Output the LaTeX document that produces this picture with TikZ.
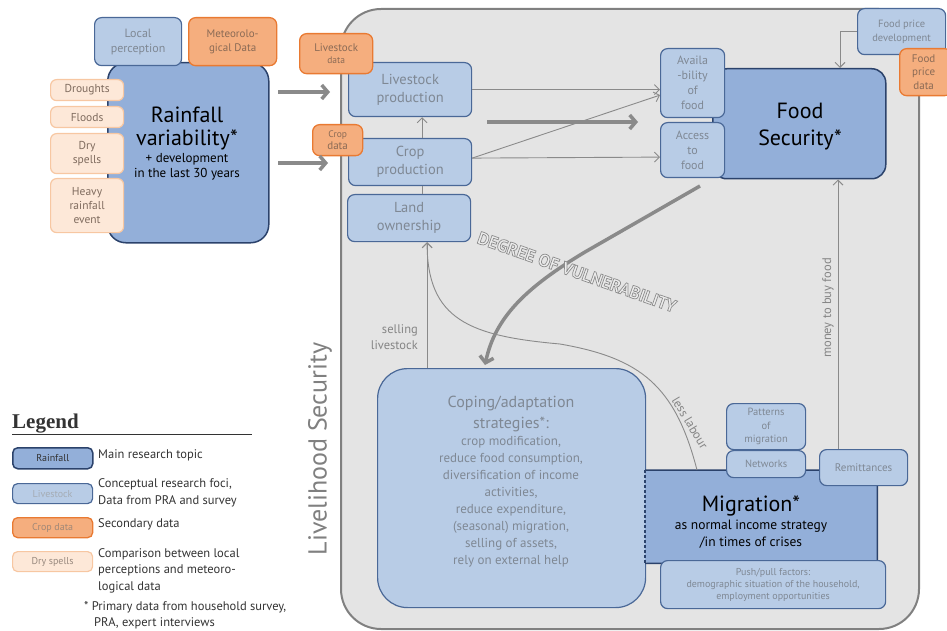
\documentclass[tikz,border=0pt]{standalone}
\usepackage{fontspec}
\setmainfont{PT Sans}
\newfontfamily\serifb{Liberation Serif}
\usetikzlibrary{arrows.meta,calc}
\definecolor{mainblue}{HTML}{93AFD9}
\definecolor{navy}{HTML}{2B426B}
\definecolor{lightblue}{HTML}{B8CCE6}
\definecolor{midnavy}{HTML}{4A6897}
\definecolor{orfill}{HTML}{F5AE7E}
\definecolor{ordraw}{HTML}{E97A32}
\definecolor{peach}{HTML}{FDE8D8}
\definecolor{peachdraw}{HTML}{F7C7A2}
\definecolor{bggray}{HTML}{E4E4E4}
\definecolor{bgdraw}{HTML}{808080}
\definecolor{boxtext}{HTML}{7F8894}
\definecolor{ortext}{HTML}{8A6A55}
\definecolor{peachtext}{HTML}{7F6B5E}
\definecolor{arrowgray}{HTML}{8A8A8A}
\definecolor{labelgray}{HTML}{858585}
\definecolor{legtext}{HTML}{333333}
\newcommand\fsz[2]{\fontsize{#1pt}{#2pt}\selectfont}
\tikzset{
  basebox/.style={anchor=north west, inner sep=0pt, align=center},
  mainbox/.style={basebox, fill=mainblue, draw=navy, line width=1.5pt, rounded corners=14pt, text=black},
  lightbox/.style={basebox, fill=lightblue, draw=midnavy, line width=1.2pt, rounded corners=7pt, text=boxtext},
  orbox/.style={basebox, fill=orfill, draw=ordraw, line width=1.3pt, rounded corners=7pt, text=ortext},
  peachbox/.style={basebox, fill=peach, draw=peachdraw, line width=1.2pt, rounded corners=6pt, text=peachtext},
  thinarrow/.style={draw=arrowgray, line width=0.9pt, -{Straight Barb[length=5pt,width=10pt]}},
  thickarrow/.style={draw=arrowgray, line width=3.5pt, -{Straight Barb[length=6pt,width=14pt]}},
  lbl/.style={text=labelgray, inner sep=0pt, align=center},
  legdesc/.style={text=legtext, inner sep=0pt, align=left, font=\fsz{12.5}{16.5}}
}
\begin{document}
\begin{tikzpicture}[x=1pt,y=-1pt]
\useasboundingbox (0,0) rectangle (947,631);
% big livelihood box
\node[basebox, fill=bggray, draw=bgdraw, line width=2pt, rounded corners=40pt,
  minimum width=578pt, minimum height=620pt] (livebox) at (340,8) {};
\node[lbl, rotate=90, font=\fsz{26}{30}, text=bgdraw] (livetitle) at (320,449) {Livelihood Security};

% rainfall
\node[mainbox, rounded corners=18pt, minimum width=161pt, minimum height=180pt] (rain) at (107,62) {};
\node[inner sep=0pt, align=center, font=\fsz{13}{15.5}, anchor=north] (raintext) at (187,107)
  {{\fsz{22}{27}Rainfall}\\[6pt] {\fsz{22}{27}variability*}\\[1pt] + development\\ in the last 30 years};
\node[lightbox, minimum width=87pt, minimum height=48pt, font=\fsz{12}{15}] (localp) at (94,17) {Local\\perception};
\node[orbox, minimum width=88pt, minimum height=48pt, font=\fsz{11}{14}] (meteo) at (188,17) {Meteorolo-\\gical Data};
\node[peachbox, minimum width=73pt, minimum height=21pt, font=\fsz{11.5}{14}] (drought) at (50,79) {Droughts};
\node[peachbox, minimum width=73pt, minimum height=21pt, font=\fsz{11.5}{14}] (floods) at (50,106) {Floods};
\node[peachbox, minimum width=73pt, minimum height=40pt, font=\fsz{11.5}{14}] (dry) at (50,133) {Dry\\spells};
\node[peachbox, minimum width=73pt, minimum height=54pt, font=\fsz{11.5}{14}] (heavy) at (50,178) {Heavy\\rainfall\\event};

% production boxes
\node[lightbox, minimum width=123pt, minimum height=54pt, font=\fsz{14.5}{18}] (livprod) at (348,62) {Livestock\\production};
\node[lightbox, minimum width=123pt, minimum height=47pt, font=\fsz{14.5}{18}] (cropprod) at (348,138) {Crop\\production};
\node[lightbox, minimum width=123pt, minimum height=47pt, font=\fsz{14.5}{18}] (landown) at (347,194) {Land\\ownership};
\node[orbox, minimum width=73pt, minimum height=40pt, font=\fsz{9.5}{12}] (livdata) at (299,33) {{\fsz{11}{13}Livestock}\\ data};
\node[orbox, minimum width=50pt, minimum height=31pt, font=\fsz{11}{12}] (cropdata) at (312,124) {{\fsz{9.5}{11}Crop}\\ data};

% food security
\node[mainbox, minimum width=173pt, minimum height=110pt] (foodsec) at (712,68) {};
\node[inner sep=0pt, align=center, font=\fsz{22}{27}] (foodtext) at (800,127) {Food\\Security*};
\node[lightbox, minimum width=64pt, minimum height=69pt, font=\fsz{12}{15}] (avail) at (660,48) {Availa\\-bility\\of\\food};
\node[lightbox, minimum width=64pt, minimum height=55pt, font=\fsz{12}{15}] (access) at (660,122) {Access\\to\\food};
\node[lightbox, minimum width=88pt, minimum height=46pt, font=\fsz{10.5}{13.5}] (fpdev) at (857,8) {Food price\\development};
\node[orbox, minimum width=52pt, minimum height=47pt, font=\fsz{11}{13.5}] (fpdata) at (899,48) {\hspace*{-4pt}Food\\\hspace*{-4pt}price\\\hspace*{-4pt}data};

% coping
\node[lightbox, rounded corners=30pt, minimum width=268pt, minimum height=239pt] (coping) at (377,368) {};
\node[lbl, text=boxtext, font=\fsz{13}{17}, anchor=north] (copingtext) at (511,396)
  {{\fsz{16}{20}Coping/adaptation}\\[4pt] {\fsz{16}{20}strategies*:}\\ crop modification,\\ reduce food consumption,\\ diversification of income\\ activities,\\ reduce expenditure,\\ (seasonal) migration,\\ selling of assets,\\ rely on external help};

% migration
\node[basebox, fill=mainblue, rounded corners=3pt, minimum width=232pt, minimum height=93pt] (mig) at (645,470) {};
\draw[navy, line width=1.5pt, rounded corners=3pt] (mig.north west) -- (mig.north east) -- (mig.south east) -- (mig.south west);
\draw[navy, line width=2pt, dash pattern=on 3pt off 2pt] (mig.north west) -- (mig.south west);
\node[inner sep=0pt, align=center, font=\fsz{13.5}{17}, anchor=north] (migtext) at (751,496)
  {{\fsz{22}{22}Migration*}\\[1pt] as normal income strategy\\ /in times of crises};
\node[lightbox, minimum width=79pt, minimum height=46pt, font=\fsz{10.5}{13.5}] (patterns) at (726,403) {Patterns\\of\\migration};
\node[lightbox, minimum width=79pt, minimum height=27pt, font=\fsz{10.5}{13}] (networks) at (726,450) {Networks};
\node[lightbox, minimum width=88pt, minimum height=36pt, font=\fsz{11}{13}] (remit) at (819,449) {Remittances};
\node[lightbox, minimum width=225pt, minimum height=48pt, font=\fsz{10}{12}] (pushpull) at (660,560)
  {Push/pull factors:\\ demographic situation of the household,\\ employment opportunities};

% arrows from rainfall
\coordinate (r1s) at (278,92); \coordinate (r1e) at (330,92);
\coordinate (r2s) at (278,163); \coordinate (r2e) at (328,163);
\draw[thickarrow] (r1s) -- (r1e);
\draw[thickarrow] (r2s) -- (r2e);
\coordinate (m1s) at (487,122); \coordinate (m1e) at (638,122);
\draw[thickarrow] (m1s) -- (m1e);

% production arrows
\draw[thinarrow] ($(cropprod.north)+(12,0)$) -- ($(livprod.south)+(12,0)$);
\draw[draw=arrowgray, line width=0.9pt] ($(landown.north)+(13,0)$) -- ($(cropprod.south)+(12,0)$);
\draw[thinarrow] (livprod.east) -- (avail.west |- livprod.east);
\draw[thinarrow] ($(cropprod.east)+(0,-4)$) -- ($(avail.west)+(0,12)$);
\draw[thinarrow] ($(cropprod.east)+(0,-4)$) -- ($(access.west)+(0,7)$);

% food price
\draw[thinarrow] (fpdev.west) -| ($(foodsec.north west)+(128,0)$);
% money to buy food
\draw[thinarrow] ($(remit.north west)+(19,0)$) -- ($(foodsec.south west)+(126,0)$);
\node[lbl, rotate=90, font=\fsz{12.5}{14}] (moneylbl) at (828,308) {money to buy food};

% selling livestock and less labour
\coordinate (landin) at ($(landown.south)+(18,0)$);
\draw[thinarrow] (landin |- coping.north) -- (landin);
\draw[thinarrow] ($(mig.north west)+(52,0)$) .. controls (675,385) and (640,358) .. (560,344)
   .. controls (470,336) and (427,320) .. (landin);
\node[lbl, align=right, anchor=east, font=\fsz{12.5}{16}] (selllbl) at (418,337) {selling\\livestock};
\node[lbl, rotate=-59, font=\fsz{12.5}{14}] (lesslbl) at (690,423) {less labour};

% degree of vulnerability arrow
\coordinate (dvs) at (700,186);
\coordinate (dvm) at (585,252);
\draw[draw=arrowgray, line width=3.5pt, -{Straight Barb[length=6pt,width=14pt]}]
  (dvs) -- (dvm) .. controls (525,288) and (495,318) .. ($(coping.north west)+(108,-3)$);
\node[inner sep=2pt, rotate=-19.5, font=\bfseries\fsz{17.5}{19}, text=gray] (dg) at (577,272)
  {\special{pdf:literal direct 2 Tr 0.7 w 0.55 G 0.93 g}DEGREE OF VULNERABILITY\special{pdf:literal direct 0 Tr}};

% legend
\node[anchor=base west, inner sep=0pt, font=\serifb\bfseries\fsz{21}{24}, text=legtext] (legtitle) at (12,428) {Legend};
\coordinate (lu1) at (12,434); \coordinate (lu2) at (252,434);
\draw[legtext, line width=0.8pt] (lu1) -- (lu2);
\node[mainbox, rounded corners=5pt, minimum width=80pt, minimum height=21pt, font=\fsz{10}{12}, text=legtext] (legmain) at (12,447) {Rainfall};
\node[lightbox, rounded corners=5pt, minimum width=80pt, minimum height=20pt, font=\fsz{10}{12}, text=boxtext!70!white] (leglight) at (12,483) {Livestock};
\node[orbox, rounded corners=5pt, minimum width=80pt, minimum height=20pt, font=\fsz{10}{12}, text=ortext!80!white] (legor) at (12,517) {Crop data};
\node[peachbox, rounded corners=5pt, minimum width=80pt, minimum height=20pt, font=\fsz{10}{12}, text=peachtext!80!white] (legpeach) at (12,551) {Dry spells};
\node[legdesc, anchor=west] (legd1) at (98,455) {Main research topic};
\node[legdesc, anchor=west] (legd2) at (98,493) {Conceptual research foci,\\Data from PRA and survey};
\node[legdesc, anchor=west] (legd3) at (98,524) {Secondary data};
\node[legdesc, anchor=north west] (legd4) at (98,548) {Comparison between local\\perceptions and meteoro-\\logical data};
\node[legdesc, anchor=north west] (legd5) at (84,601) {* Primary data from household survey,\\\hspace*{10pt}PRA, expert interviews};
\end{tikzpicture}
\end{document}
